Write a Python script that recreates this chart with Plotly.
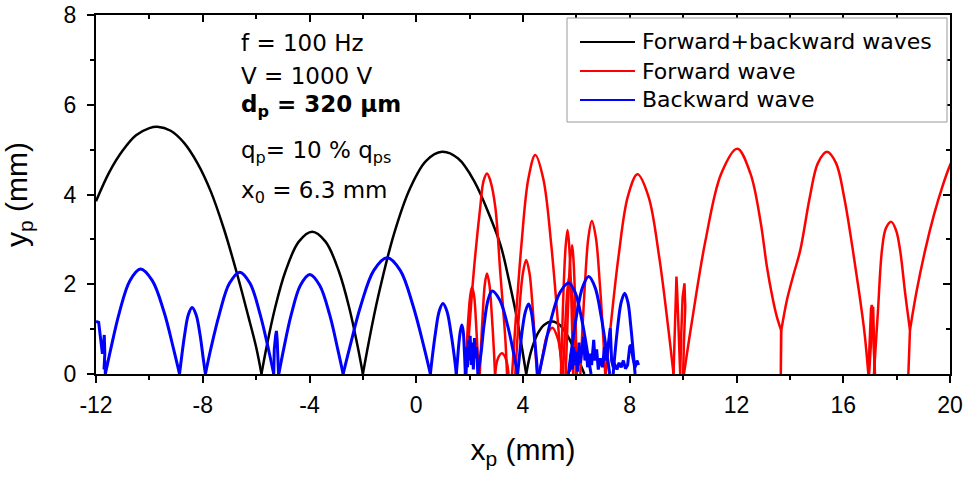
import plotly.graph_objects as go

# ---------------- data ----------------
# Forward+backward waves (black) - arches separated by None
black_x = [-12.0, -11.5, -11.0, -10.5, -10.0, -9.7, -9.2, -8.7, -8.2, -7.7, -7.2, -6.7, -6.3, -6.0, -5.8, None,
           -5.8, -5.6, -5.3, -4.9, -4.4, -3.9, -3.4, -2.9, -2.5, -2.2, -2.0, None,
           -2.0, -1.78, -1.43, -0.83, -0.23, 0.37, 0.97, 1.57, 2.17, 2.77, 3.17, 3.47, 3.77, 3.97, 4.12, None,
           4.12, 4.3, 4.55, 4.8, 5.1, 5.4, 5.7, 5.95, 6.15, 6.3]
black_y = [3.85, 4.5, 4.98, 5.32, 5.48, 5.51, 5.42, 5.15, 4.7, 4.07, 3.22, 2.2, 1.3, 0.6, 0.0, None,
           0.0, 0.63, 1.45, 2.29, 2.95, 3.17, 2.95, 2.29, 1.45, 0.63, 0.0, None,
           0.0, 0.71, 1.72, 3.13, 4.14, 4.75, 4.95, 4.8, 4.3, 3.5, 2.85, 2.1, 1.25, 0.55, 0.0, None,
           0.0, 0.5, 0.9, 1.1, 1.17, 1.08, 0.82, 0.5, 0.22, 0.0]

# Forward wave (red) - smooth arches
red_arch_x = [1.84, 1.88, 1.94, 2.02, 2.09, 2.17, 2.24, 2.3, 2.34, None,
              1.88, 1.96, 2.15, 2.4, 2.52, 2.65, 2.78, 2.96, 3.15, 3.34, 3.4, None,
              2.38, 2.42, 2.49, 2.57, 2.65, 2.74, 2.83, 2.91, 2.95, None,
              2.96, 3.05, 3.21, 3.35, 3.46, None,
              3.71, 3.77, 3.87, 4.0, 4.12, 4.24, 4.36, 4.46, 4.52, None,
              3.59, 3.72, 3.94, 4.2, 4.46, 4.76, 5.06, 5.31, 5.46, None,
              4.62, 4.75, 4.9, 5.1, 5.3, 5.42, 5.5, None,
              5.42, 5.46, 5.52, 5.6, 5.67, 5.73, 5.8, 5.85, 5.88, None,
              5.6, 5.64, 5.7, 5.77, 5.84, 5.89, 5.95, 5.99, 6.02, None,
              5.5, 5.54, 5.6, 5.68, 5.75, 5.82, 5.89, 5.95, 5.98, None,
              6.15, 6.21, 6.32, 6.45, 6.58, 6.73, 6.88, 7.01, 7.08, None,
              7.1, 7.28, 7.58, 7.93, 8.29, 8.7, 9.1, 9.44, 9.64, None,
              10.03, 10.33, 10.83, 11.43, 12.03, 12.52, 12.9, 13.14, 13.35, 13.51, 13.67, None,
              13.68, 13.89, 14.13, 14.39, 14.75, 15.05, 15.39, 15.73, 16.03, 16.35, 16.6, 16.8, 16.94, None,
              17.15, 17.3, 17.45, 17.6, 17.8, 17.98, 18.13, 18.33, 18.5, None,
              18.5, 18.75, 19.07, 19.4, 19.7, 20.0, 20.25]
red_arch_y = [0.0, 0.45, 1.14, 1.73, 1.94, 1.73, 1.14, 0.45, 0.0, None,
              0.0, 0.76, 2.25, 3.73, 4.3, 4.47, 4.3, 3.73, 2.25, 0.76, 0.0, None,
              0.0, 0.52, 1.32, 2.0, 2.24, 2.0, 1.32, 0.52, 0.0, None,
              0.0, 0.33, 0.46, 0.35, 0.0, None,
              0.0, 0.59, 1.49, 2.26, 2.54, 2.26, 1.49, 0.59, 0.0, None,
              0.0, 1.14, 2.87, 4.35, 4.88, 4.35, 2.87, 1.14, 0.0, None,
              0.0, 0.45, 0.85, 1.03, 0.8, 0.4, 0.0, None,
              0.0, 0.75, 1.89, 2.86, 3.21, 2.86, 1.89, 0.75, 0.0, None,
              0.0, 0.67, 1.69, 2.56, 2.87, 2.56, 1.69, 0.67, 0.0, None,
              0.0, 0.51, 1.29, 1.96, 2.2, 1.96, 1.29, 0.51, 0.0, None,
              0.0, 0.79, 2.0, 3.04, 3.41, 3.04, 2.0, 0.79, 0.0, None,
              0.0, 1.04, 2.62, 3.96, 4.45, 3.96, 2.62, 1.04, 0.0, None,
              0.0, 1.17, 2.95, 4.47, 5.02, 4.47, 3.4, 2.39, 1.7, 1.28, 0.98, None,
              0.98, 1.65, 2.2, 2.76, 3.95, 4.7, 4.95, 4.7, 3.95, 2.8, 1.8, 0.9, 0.0, None,
              0.0, 1.4, 2.76, 3.25, 3.39, 3.2, 2.76, 1.75, 0.98, None,
              0.98, 1.85, 2.76, 3.55, 4.15, 4.65, 4.95]

# Forward wave (red) - sharp spikes and bounce stubs
red_spike_x = [9.64, 9.68, 9.72, 9.75, 9.78, 9.83, 9.89, 9.93, 9.98, 10.05, 10.08, 10.03, 10.0, None,
               13.67, 13.66, 13.68, None,
               16.94, 16.99, 17.04, 17.07, 17.11, 17.15, 17.19, None,
               16.97, 17.03, 17.09, 17.12, 17.15, 17.17, None,
               18.5, 18.44, 18.5]
red_spike_y = [0.0, 1.0, 1.9, 2.17, 1.8, 0.8, 0.0, 0.9, 1.7, 2.02, 1.5, 0.7, 0.0, None,
               0.98, 0.0, 0.98, None,
               0.0, 0.9, 1.45, 1.54, 1.1, 0.5, 0.0, None,
               0.0, 0.7, 1.4, 1.5, 0.8, 0.0, None,
               0.98, 0.0, 0.98]

# Backward wave (blue) - smooth arches
blue_arch_x = [-11.65, -11.45, -11.12, -10.73, -10.33, -9.89, -9.45, -9.09, -8.87, None,
               -8.87, -8.8, -8.68, -8.54, -8.4, -8.25, -8.1, -7.98, -7.9, None,
               -7.9, -7.71, -7.38, -7.0, -6.61, -6.23, -5.85, -5.53, -5.34, None,
               -5.15, -4.98, -4.69, -4.34, -3.99, -3.62, -3.24, -2.93, -2.74, None,
               -2.74, -2.49, -2.08, -1.59, -1.09, -0.6, -0.12, 0.29, 0.53, None,
               0.53, 0.6, 0.72, 0.86, 1.0, 1.15, 1.3, 1.43, 1.5, None,
               1.5, 1.55, 1.6, 1.66, 1.71, 1.76, 1.8, 1.84, None,
               2.3, 2.42, 2.54, 2.69, 2.84, 3.13, 3.42, 3.66, 3.8, None,
               3.8, 3.86, 3.96, 4.09, 4.21, 4.31, 4.41, 4.5, 4.55, None,
               4.6, 4.77, 5.04, 5.38, 5.71, 5.96, 6.21, 6.42, 6.55, None,
               5.7, 5.81, 6.0, 6.23, 6.46, 6.7, 6.93, 7.13, 7.25, None,
               7.38, 7.44, 7.55, 7.68, 7.81, 7.93, 8.04, 8.14, 8.2]
blue_arch_y = [0.0, 0.55, 1.38, 2.08, 2.34, 2.08, 1.38, 0.55, 0.0, None,
               0.0, 0.34, 0.87, 1.32, 1.48, 1.32, 0.87, 0.34, 0.0, None,
               0.0, 0.53, 1.33, 2.02, 2.27, 2.02, 1.33, 0.53, 0.0, None,
               0.0, 0.52, 1.31, 1.98, 2.22, 1.98, 1.31, 0.52, 0.0, None,
               0.0, 0.6, 1.52, 2.31, 2.59, 2.31, 1.52, 0.6, 0.0, None,
               0.0, 0.37, 0.92, 1.4, 1.57, 1.4, 0.92, 0.37, 0.0, None,
               0.0, 0.35, 0.7, 0.98, 1.09, 0.95, 0.55, 0.0, None,
               0.0, 0.43, 1.09, 1.65, 1.85, 1.65, 1.09, 0.43, 0.0, None,
               0.0, 0.36, 0.92, 1.39, 1.56, 1.39, 0.92, 0.36, 0.0, None,
               0.0, 0.47, 1.19, 1.81, 2.03, 1.81, 1.19, 0.47, 0.0, None,
               0.0, 0.51, 1.28, 1.93, 2.17, 1.93, 1.28, 0.51, 0.0, None,
               0.0, 0.42, 1.06, 1.6, 1.8, 1.6, 1.06, 0.42, 0.0]

# Backward wave (blue) - jittery bounces near the ground
blue_noise_x = [-12.0, -11.9, -11.82, -11.76, -11.72, -11.69, -11.67, -11.7, -11.66, -11.65, None,
                -5.34, -5.32, -5.27, -5.24, -5.21, -5.18, -5.16, None,
                1.84, 1.88, 1.92, 1.95, 1.99, 2.02, 2.06, 2.1, 2.14, 2.18, 2.22, 2.26, 2.3, 2.33, None,
                5.75, 5.8, 5.85, 5.9, 5.95, 6.0, 6.05, 6.1, 6.15, 6.2, 6.27, 6.32, 6.37, 6.42, 6.5, 6.57,
                6.65, 6.7, 6.76, 6.82, 6.9, 6.98, 7.05, 7.12, 7.2, 7.27, 7.32, 7.38, 7.45, 7.52, 7.6,
                7.68, 7.76, 7.84, 7.92, 8.0, 8.05, 8.12, 8.2, 8.27, 8.33]
blue_noise_y = [1.17, 1.15, 0.75, 0.45, 0.62, 0.87, 0.45, 0.1, 0.3, 0.0, None,
                0.0, 0.55, 0.85, 0.96, 0.75, 0.35, 0.0, None,
                0.0, 0.6, 0.15, 0.75, 0.3, 0.85, 0.2, 0.7, 0.1, 0.8, 0.35, 0.6, 0.1, 0.0, None,
                0.05, 0.45, 0.1, 0.6, 0.2, 0.5, 0.05, 0.7, 0.25, 0.55, 0.83, 0.3, 0.6, 0.15, 0.45, 0.2,
                0.76, 0.3, 0.55, 0.1, 0.35, 0.15, 0.6, 0.3, 0.7, 1.02, 0.3, 0.15, 0.2, 0.1, 0.25,
                0.15, 0.3, 0.12, 0.2, 0.61, 0.65, 0.35, 0.15, 0.3, 0.2]

series_names = ["Forward+backward waves", "Forward wave", "Backward wave"]
series_colors = ["#000000", "#ff0000", "#0000ff"]
x_ticks = [-12, -8, -4, 0, 4, 8, 12, 16, 20]
x_ticktext = ["-12", "-8", "-4", "0", "4", "8", "12", "16", "20"]
y_ticks = [0, 2, 4, 6, 8]
y_ticktext = ["0", "2", "4", "6", "8"]
info_lines = ["f = 100 Hz", "V = 1000 V", "<b>d<sub>p</sub> = 320 \u03bcm</b>",
              "q<sub>p</sub>= 10 % q<sub>ps</sub>", "x<sub>0</sub> = 6.3 mm"]

# ---------------- layout geometry ----------------
FIG_W, FIG_H = 965, 477
PL, PR, PT, PB = 96, 950, 15, 374          # plot area in page pixels
def px_x(px):
    return (px - PL) / (PR - PL)
def px_y(py):
    return (PB - py) / (PB - PT)

info_py = [43, 76, 106, 152, 192]
legend_py = [42, 71, 100]

FAM = "Liberation Sans, Arial, sans-serif"
TICKFONT = dict(family=FAM, size=23, color="black")
TXTFONT = dict(family="DejaVu Sans, sans-serif", size=23, color="black")
LEGFONT = dict(family="DejaVu Sans, sans-serif", size=22, color="black")

fig = go.Figure()
fig.add_trace(go.Scatter(x=black_x, y=black_y, mode="lines", name=series_names[0],
                         line=dict(color=series_colors[0], width=2.5, shape="spline"), showlegend=False))
fig.add_trace(go.Scatter(x=red_arch_x, y=red_arch_y, mode="lines", name=series_names[1],
                         line=dict(color=series_colors[1], width=2.5, shape="spline"), showlegend=False))
fig.add_trace(go.Scatter(x=red_spike_x, y=red_spike_y, mode="lines", name=series_names[1],
                         line=dict(color=series_colors[1], width=2.5), showlegend=False))
fig.add_trace(go.Scatter(x=blue_arch_x, y=blue_arch_y, mode="lines", name=series_names[2],
                         line=dict(color=series_colors[2], width=3, shape="spline"), showlegend=False))
fig.add_trace(go.Scatter(x=blue_noise_x, y=blue_noise_y, mode="lines", name=series_names[2],
                         line=dict(color=series_colors[2], width=3), showlegend=False))
# empty trace to activate mirror axes (inside ticks on top/right)
fig.add_trace(go.Scatter(x=[], y=[], xaxis="x2", yaxis="y2", showlegend=False, hoverinfo="skip"))

# parameter text block
for i, t in enumerate(info_lines):
    fig.add_annotation(x=px_x(239), y=px_y(info_py[i]), xref="paper", yref="paper", text=t,
                       showarrow=False, xanchor="left", yanchor="middle", font=TXTFONT)

# legend box drawn like the original (framed, long line samples)
fig.add_shape(type="rect", xref="paper", yref="paper", x0=px_x(567), x1=px_x(947),
              y0=px_y(122), y1=px_y(18), line=dict(color="#9a9a9a", width=1), fillcolor="white")
for i, name in enumerate(series_names):
    fig.add_shape(type="line", xref="paper", yref="paper", x0=px_x(580), x1=px_x(635),
                  y0=px_y(legend_py[i]), y1=px_y(legend_py[i]),
                  line=dict(color=series_colors[i], width=2))
    fig.add_annotation(x=px_x(640), y=px_y(legend_py[i]), xref="paper", yref="paper", text=name,
                       showarrow=False, xanchor="left", yanchor="middle", font=LEGFONT)

common = dict(showgrid=False, zeroline=False, tickcolor="black", tickwidth=1.5, automargin=False)
fig.update_layout(
    width=FIG_W, height=FIG_H,
    margin=dict(l=PL, r=FIG_W - PR, t=PT, b=FIG_H - PB),
    paper_bgcolor="white", plot_bgcolor="white",
    showlegend=False, hovermode=False,
    xaxis=dict(range=[-12, 20], tickvals=x_ticks, ticktext=x_ticktext, ticks="outside", ticklen=7,
               showline=True, linecolor="black", linewidth=2, mirror=True,
               minor=dict(ticks="outside", dtick=2, ticklen=4, tickwidth=1.5, tickcolor="black"),
               tickfont=TICKFONT, ticklabelstandoff=2, ticklabeloverflow="allow",
               title=dict(text="x<sub>p</sub> (mm)", standoff=22,
                          font=dict(family=FAM, size=30, color="black")),
               **common),
    yaxis=dict(range=[0, 8], tickvals=y_ticks, ticktext=y_ticktext, ticks="outside", ticklen=7,
               showline=True, linecolor="black", linewidth=2, mirror=True,
               minor=dict(ticks="outside", dtick=1, ticklen=4, tickwidth=1.5, tickcolor="black"),
               tickfont=TICKFONT, ticklabelstandoff=6, ticklabeloverflow="allow",
               title=dict(text="y<sub>p</sub> (mm)", standoff=30,
                          font=dict(family=FAM, size=30, color="black")),
               **common),
    xaxis2=dict(range=[-12, 20], overlaying="x", anchor="y", side="top", tickvals=x_ticks,
                ticks="inside", ticklen=7, showticklabels=False, showline=False,
                minor=dict(ticks="inside", dtick=2, ticklen=4, tickwidth=1.5, tickcolor="black"),
                **common),
    yaxis2=dict(range=[0, 8], overlaying="y", anchor="x", side="right", tickvals=y_ticks,
                ticks="inside", ticklen=7, showticklabels=False, showline=False,
                minor=dict(ticks="inside", dtick=1, ticklen=4, tickwidth=1.5, tickcolor="black"),
                **common),
)

# remove the browser's default 8px page margin so the 965x477 figure fills the window
fig.write_html("out.html", config={"displayModeBar": False},
               post_script="document.body.style.margin='0px';")
